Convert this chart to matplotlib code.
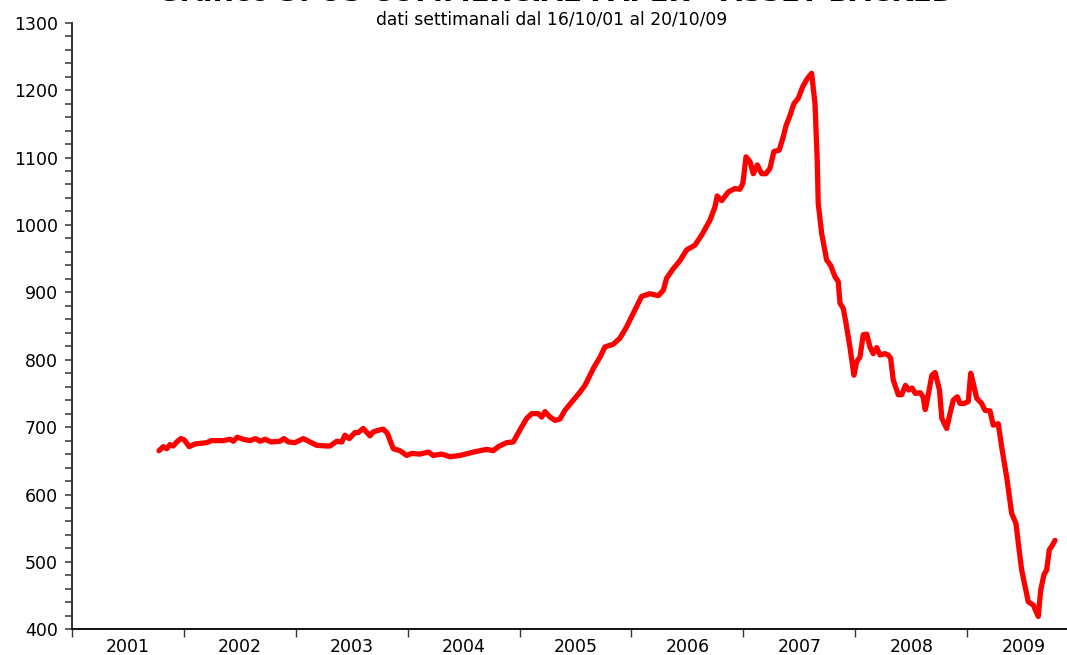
import matplotlib
matplotlib.use("Agg")
import matplotlib.pyplot as plt
from matplotlib.ticker import MultipleLocator, FixedLocator, FixedFormatter, NullFormatter

# Weekly series (decimal year, value)
dates = [
    2001.780, 2001.818, 2001.849, 2001.878, 2001.907, 2001.938, 2001.974, 2002.006,
    2002.050, 2002.101, 2002.206, 2002.250, 2002.354, 2002.414, 2002.443, 2002.479,
    2002.533, 2002.593, 2002.643, 2002.682, 2002.727, 2002.780, 2002.860, 2002.896,
    2002.935, 2002.994, 2003.069, 2003.128, 2003.188, 2003.278, 2003.307, 2003.367,
    2003.412, 2003.441, 2003.479, 2003.530, 2003.560, 2003.604, 2003.664, 2003.694,
    2003.754, 2003.783, 2003.819, 2003.849, 2003.872, 2003.932, 2003.992, 2004.037,
    2004.111, 2004.185, 2004.230, 2004.305, 2004.379, 2004.468, 2004.542, 2004.587,
    2004.707, 2004.766, 2004.810, 2004.885, 2004.944, 2005.004, 2005.064, 2005.109,
    2005.168, 2005.198, 2005.227, 2005.272, 2005.317, 2005.361, 2005.406, 2005.540,
    2005.585, 2005.659, 2005.719, 2005.763, 2005.837, 2005.897, 2005.957, 2006.016,
    2006.091, 2006.165, 2006.239, 2006.284, 2006.314, 2006.373, 2006.433, 2006.493,
    2006.567, 2006.627, 2006.701, 2006.746, 2006.766, 2006.806, 2006.865, 2006.924,
    2006.969, 2006.995, 2007.023, 2007.058, 2007.088, 2007.124, 2007.163, 2007.201,
    2007.237, 2007.272, 2007.320, 2007.356, 2007.380, 2007.415, 2007.451, 2007.490,
    2007.529, 2007.570, 2007.609, 2007.639, 2007.659, 2007.668, 2007.699, 2007.743,
    2007.779, 2007.818, 2007.847, 2007.862, 2007.892, 2007.916, 2007.951, 2007.987,
    2008.011, 2008.041, 2008.070, 2008.101, 2008.130, 2008.159, 2008.190, 2008.220,
    2008.264, 2008.294, 2008.315, 2008.338, 2008.383, 2008.413, 2008.447, 2008.477,
    2008.506, 2008.535, 2008.580, 2008.604, 2008.624, 2008.653, 2008.683, 2008.712,
    2008.751, 2008.772, 2008.815, 2008.845, 2008.874, 2008.910, 2008.934, 2008.970,
    2009.008, 2009.030, 2009.053, 2009.083, 2009.128, 2009.157, 2009.202, 2009.231,
    2009.276, 2009.306, 2009.351, 2009.396, 2009.434, 2009.455, 2009.485, 2009.544,
    2009.589, 2009.633, 2009.655, 2009.684, 2009.708, 2009.732, 2009.753, 2009.783,
]
values = [
    665, 671, 668, 674, 672, 678, 683, 681,
    671, 675, 677, 680, 680, 682, 679, 685,
    682, 680, 683, 679, 682, 678, 679, 683,
    678, 677, 683, 678, 673, 672, 672, 679,
    678, 688, 683, 692, 692, 698, 687, 693,
    696, 697, 691, 678, 668, 665, 658, 661,
    660, 663, 658, 660, 656, 658, 661, 663,
    667, 665, 671, 677, 678, 696, 713, 720,
    720, 715, 723, 715, 710, 712, 725, 752,
    762, 787, 804, 819, 823, 832, 849, 869,
    894, 898, 895, 903, 921, 935, 947, 963,
    970, 985, 1007, 1027, 1043, 1036, 1049, 1054,
    1053, 1062, 1101, 1094, 1076, 1089, 1076, 1076,
    1084, 1109, 1111, 1131, 1147, 1162, 1180, 1188,
    1205, 1217, 1225, 1180, 1096, 1032, 987, 948,
    940, 923, 916, 884, 876, 854, 819, 777,
    797, 804, 837, 838, 819, 809, 818, 807,
    809, 807, 802, 770, 748, 748, 762, 755,
    758, 750, 751, 745, 726, 750, 777, 781,
    755, 713, 698, 720, 740, 745, 735, 735,
    738, 780, 765, 743, 735, 725, 724, 703,
    705, 671, 626, 572, 557, 528, 488, 441,
    436, 419, 458, 481, 488, 518, 523, 532,
]

years = [2001, 2002, 2003, 2004, 2005, 2006, 2007, 2008, 2009]
year_labels = [str(y) for y in years]

title = "Grafico 3: US COMMERCIAL PAPER - ASSET BACKED"
subtitle = "dati settimanali dal 16/10/01 al 20/10/09"

fig = plt.figure(figsize=(10.67, 6.55), dpi=100)
ax = fig.add_axes([0.0672, 0.0392, 0.9328, 0.9261])

ax.plot(dates, values, color="#ff0000", lw=3.8, solid_joinstyle="round",
        solid_capstyle="round")

ax.set_xlim(2001, 2009.89)
ax.set_ylim(400, 1300)

for s in ["top", "right"]:
    ax.spines[s].set_visible(False)
ax.spines["left"].set_color("#333333")
ax.spines["bottom"].set_color("#111111")
ax.spines["left"].set_linewidth(1.4)
ax.spines["bottom"].set_linewidth(1.4)

ax.yaxis.set_major_locator(MultipleLocator(100))
ax.yaxis.set_minor_locator(MultipleLocator(20))
ax.tick_params(axis="y", which="major", length=5, width=1.1, color="#333333",
               labelsize=12.5, pad=5)
ax.tick_params(axis="y", which="minor", length=5, width=1.1, color="#333333")

ax.xaxis.set_major_locator(FixedLocator(years))
ax.xaxis.set_major_formatter(NullFormatter())
ax.xaxis.set_minor_locator(FixedLocator([y + 0.5 for y in years]))
ax.xaxis.set_minor_formatter(FixedFormatter(year_labels))
ax.tick_params(axis="x", which="major", length=6, width=1.0, color="#333333")
ax.tick_params(axis="x", which="minor", length=0, labelsize=12.5, pad=6.5)

for lab in ax.get_yticklabels() + ax.get_xticklabels(minor=True):
    lab.set_family("DejaVu Sans")

# Title is partly cut off at the top edge, as in the reference
fig.text(0.521, 1 - 1 / 655, title, ha="center", va="baseline",
         fontsize=20, fontweight="bold", family="DejaVu Sans")
fig.text(0.517, 1 - 19 / 655, subtitle, ha="center", va="center",
         fontsize=12.3, family="DejaVu Sans")

fig.savefig("out.png", dpi=100)
